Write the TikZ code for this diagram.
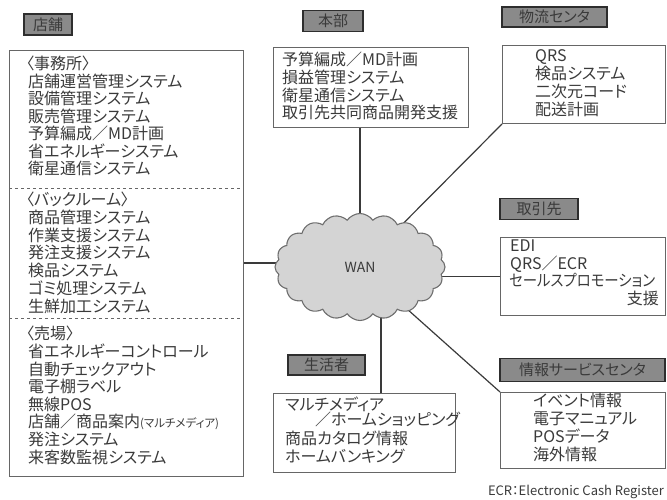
\documentclass[tikz,border=0pt]{standalone}
\usepackage{graphicx}
\usepackage{fontspec}
\setmainfont{Noto Sans CJK JP}[RawFeature=+palt]
\usetikzlibrary{shapes.symbols,backgrounds}
\definecolor{ink}{HTML}{3A3A3A}
\definecolor{boxline}{HTML}{666666}
\definecolor{tagfill}{HTML}{8A8A8A}
\definecolor{tagline}{HTML}{2E2E2E}
\definecolor{cloudfill}{HTML}{D4D4D4}
\definecolor{cloudline}{HTML}{6E6E6E}
\begin{document}
\begin{tikzpicture}[x=1pt,y=-1pt,
  every node/.style={inner sep=0pt},
  txt/.style={anchor=west, font=\fontsize{16}{17}\selectfont, text=ink, text height=0.88em, text depth=0.12em},
  tag/.style={draw=tagline, line width=1.4pt, fill=tagfill, text=ink, font=\fontsize{15}{17}\selectfont, minimum height=21pt},
  panel/.style={draw=boxline, line width=1pt, anchor=north west},
  link/.style={draw=ink, line width=1.2pt},
  sep/.style={draw=boxline, line width=0.8pt, dashed}]
\useasboundingbox (0,0) rectangle (667,500);

% panels
\node[panel, minimum width=234pt, minimum height=426pt] (store) at (9,50) {};
\node[panel, minimum width=195pt, minimum height=80pt] (hq) at (273,47) {};
\node[panel, minimum width=163pt, minimum height=78pt] (logi) at (502,45) {};
\node[panel, minimum width=165pt, minimum height=78pt] (partner) at (500,237) {};
\node[panel, minimum width=165pt, minimum height=76pt] (info) at (500,392) {};
\node[panel, minimum width=182pt, minimum height=79pt] (life) at (273,393) {};

\draw[sep] (store.west |- 0,188) -- (store.east |- 0,188);
\draw[sep] (store.west |- 0,318) -- (store.east |- 0,318);

% tags
\node[tag, minimum width=48pt] (tStore) at (48,24.5) {店舗};
\node[tag, minimum width=60pt] (tHq) at (333,21) {本部};
\node[tag, minimum width=105pt, minimum height=20pt] (tLogi) at (554.5,17) {物流センタ};
\node[tag, minimum width=78pt] (tPartner) at (539,209) {取引先};
\node[tag, minimum width=165pt, minimum height=23pt] (tInfo) at (582.5,370) {情報サービスセンタ};
\node[tag, minimum width=77pt, minimum height=20pt] (tLife) at (326.5,365) {生活者};

% cloud
\node[cloud, cloud puffs=20, cloud puff arc=110, aspect=1.6, draw=cloudline, line width=1.1pt,
      fill=cloudfill, minimum width=170pt, minimum height=107pt,
      font=\fontsize{14}{14}\selectfont, text=ink] (wan) at (360,267) {WAN};

% connectors
\begin{scope}[on background layer]
\draw[link] (store.east |- 0,263) -- (wan.center |- 0,263);
\draw[link] (wan.center) -- (wan.center |- hq.south);
\draw[link] (wan.center) -- (logi.south west);
\draw[link] (partner.west) -- (partner.west -| wan.center);
\draw[link] (wan.center) -- (info.north west);
\draw[link] (life.north -| 381,0) -- (wan.center -| 381,0);
\end{scope}

% store texts
\node[txt] (s1h) at (26,66) {〈事務所〉};
\foreach \t [count=\i] in {店舗運営管理システム,設備管理システム,販売管理システム,予算編成／MD計画,省エネルギーシステム,衛星通信システム}
  \node[txt] (s1-\i) at (28,66+17.5*\i) {\t};
\node[txt] (s2h) at (26,202) {〈バックルーム〉};
\foreach \t [count=\i] in {商品管理システム,作業支援システム,発注支援システム,検品システム,ゴミ処理システム,生鮮加工システム}
  \node[txt] (s2-\i) at (28,202+17.7*\i) {\t};
\node[txt] (s3h) at (26,336) {〈売場〉};
\foreach \t [count=\i] in {省エネルギーコントロール,自動チェックアウト,電子棚ラベル,無線POS,{店舗／商品案内{\fontsize{11.5}{11}\selectfont(マルチメディア)}},発注システム,来客数監視システム}
  \node[txt] (s3-\i) at (28,336+17.6*\i) {\t};

% hq texts
\foreach \t [count=\i from 0] in {予算編成／MD計画,損益管理システム,衛星通信システム,取引先共同商品開発支援}
  \node[txt] (h-\i) at (282,62+17.7*\i) {\t};

% logistics texts
\foreach \t [count=\i from 0] in {QRS,検品システム,二次元コード,配送計画}
  \node[txt] (l-\i) at (535,58+18*\i) {\t};

% partner texts
\node[txt] (p-0) at (510,248) {EDI};
\node[txt] (p-1) at (510,265.5) {QRS／ECR};
\node[txt] (p-2) at (509,283) {\scalebox{0.9}[1]{セールスプロモーション}};
\node[txt, anchor=east] (p-3) at (659,301) {支援};

% info texts
\foreach \t [count=\i from 0] in {イベント情報,電子マニュアル,POSデータ,海外情報}
  \node[txt] (n-\i) at (533,403+18*\i) {\t};

% consumer texts
\node[txt] (c-0) at (285,407) {マルチメディア};
\node[txt] (c-1) at (315,422) {／ホームショッピング};
\node[txt] (c-2) at (285,441) {商品カタログ情報};
\node[txt] (c-3) at (285,459) {ホームバンキング};

% note
\node[txt, anchor=east, font=\fontsize{13}{13}\selectfont] (note) at (664,492) {ECR：Electronic Cash Register};
\end{tikzpicture}
\end{document}
